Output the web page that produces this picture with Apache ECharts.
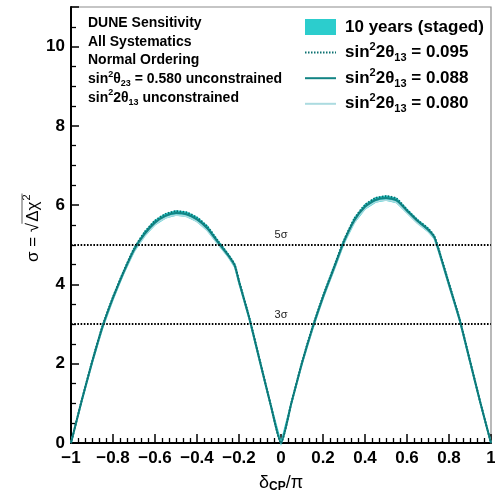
<!DOCTYPE html>
<html>
<head>
<meta charset="utf-8">
<script src="https://cdn.jsdelivr.net/npm/echarts@6/dist/echarts.min.js"></script>
<style>
  html, body { margin: 0; padding: 0; background: #fff; }
  #chart { width: 495px; height: 493px; }
</style>
</head>
<body>
<div id="chart"></div>
<script>
// delta_CP / pi sample points
const deltaCP = [-1, -0.95, -0.9, -0.85, -0.8, -0.75, -0.7, -0.65, -0.6, -0.55, -0.5, -0.45, -0.4, -0.35, -0.3, -0.25, -0.22, -0.2, -0.15, -0.1, -0.05, 0,
  0.05, 0.1, 0.15, 0.2, 0.25, 0.3, 0.35, 0.4, 0.45, 0.5, 0.55, 0.6, 0.65, 0.7, 0.73, 0.75, 0.8, 0.85, 0.9, 0.95, 1];

// sensitivity (sigma) for each sin^2 2theta13 value
const sigma095 = [0, 1.06, 2.05, 2.96, 3.69, 4.33, 4.91, 5.32, 5.61, 5.78, 5.85, 5.82, 5.69, 5.46, 5.10, 4.75, 4.50, 4.10, 3.15, 2.07, 0.99, 0,
  1.03, 2.04, 2.93, 3.71, 4.42, 5.12, 5.67, 6.01, 6.18, 6.23, 6.17, 5.89, 5.63, 5.42, 5.22, 4.91, 4.03, 3.14, 2.08, 1.01, 0];
const sigma088 = [0, 1.05, 2.03, 2.93, 3.66, 4.30, 4.87, 5.27, 5.56, 5.73, 5.80, 5.77, 5.64, 5.41, 5.06, 4.72, 4.47, 4.07, 3.13, 2.05, 0.98, 0,
  1.02, 2.02, 2.90, 3.68, 4.38, 5.08, 5.62, 5.96, 6.13, 6.18, 6.12, 5.86, 5.60, 5.38, 5.19, 4.88, 4.00, 3.12, 2.06, 1.00, 0];
const sigma080 = [0, 1.04, 2.01, 2.90, 3.63, 4.27, 4.83, 5.22, 5.51, 5.68, 5.75, 5.72, 5.59, 5.36, 5.02, 4.69, 4.44, 4.04, 3.11, 2.03, 0.97, 0,
  1.01, 2.00, 2.87, 3.65, 4.34, 5.04, 5.57, 5.91, 6.08, 6.13, 6.07, 5.81, 5.55, 5.34, 5.16, 4.85, 3.97, 3.10, 2.04, 0.99, 0];

// staged-exposure band edges
const bandLow = sigma080;
const bandHigh = sigma095;

const seriesNames = ['10 years (staged)', 'sin{sup|2}2θ{sub|13} = 0.095', 'sin{sup|2}2θ{sub|13} = 0.088', 'sin{sup|2}2θ{sub|13} = 0.080'];
const sigmaLevels = [5, 3];
const xTicks = { min: -1, max: 1, step: 0.2 };
const yTicks = { min: 0, max: 11, step: 2 };

const FONT = '"Liberation Sans", Arial, Helvetica, sans-serif';
const TEAL_FILL = '#2ccdcd';
const TEAL = '#128484';
const TEAL_DARK = '#0b7070';
const TEAL_LIGHT = '#acdbe0';
const SMOOTH = 0.2;

const pairs = (ys) => deltaCP.map((x, i) => [x, ys[i]]);

const infoText = [
  'DUNE Sensitivity',
  'All Systematics',
  'Normal Ordering',
  'sin{sup|2}θ{sub|23} = 0.580 unconstrained',
  'sin{sup|2}2θ{sub|13} unconstrained'
].join('\n');

// measure pieces of the y-axis title so the radical bar can be drawn over them
const mctx = document.createElement('canvas').getContext('2d');
mctx.font = '17px ' + FONT;
const wLead = mctx.measureText('σ = √').width;
const wRad = mctx.measureText('Δχ').width;

const chart = echarts.init(document.getElementById('chart'), null, { renderer: 'canvas' });

const richSmall = {
  sup: { fontSize: 11, fontWeight: 'bold', fontFamily: FONT, color: '#000', verticalAlign: 'top', lineHeight: 11 },
  sub: { fontSize: 11, fontWeight: 'bold', fontFamily: FONT, color: '#000', verticalAlign: 'bottom', lineHeight: 11 }
};

// band polygon: upper edge left-to-right, lower edge back right-to-left
function renderBand(params, api) {
  const pts = [];
  for (let i = 0; i < deltaCP.length; i++) pts.push(api.coord([deltaCP[i], bandHigh[i]]));
  for (let i = deltaCP.length - 1; i >= 0; i--) pts.push(api.coord([deltaCP[i], bandLow[i]]));
  return {
    type: 'polygon',
    shape: { points: pts },
    style: { fill: TEAL_FILL, stroke: TEAL_FILL, lineWidth: 1.5 }
  };
}

const hiddenSymbol = { opacity: 0 };

chart.setOption({
  animation: false,
  backgroundColor: '#fff',
  grid: {
    left: 71, right: 4, top: 7, bottom: 50,
    outerBoundsMode: 'none',
    show: true, borderColor: '#8c8c8c', borderWidth: 1.2, backgroundColor: 'transparent'
  },
  xAxis: {
    type: 'value',
    min: xTicks.min, max: xTicks.max, interval: xTicks.step,
    axisLine: { onZero: false, lineStyle: { color: '#000', width: 2 } },
    axisTick: { inside: true, length: 9, lineStyle: { color: '#000', width: 1.5 } },
    minorTick: { show: true, splitNumber: 6, length: 5, lineStyle: { color: '#000', width: 1.3 } },
    splitLine: { show: false },
    axisLabel: {
      margin: 7, color: '#000', fontSize: 17, fontWeight: 'bold', fontFamily: FONT,
      formatter: (v) => String(Math.round(v * 10) / 10).replace('-', '\u2212')
    },
    name: '{d|δ}{s|CP}{d|/π}',
    nameLocation: 'middle',
    nameGap: 30,
    nameTextStyle: {
      rich: {
        d: { fontSize: 18, fontFamily: FONT, color: '#000', lineHeight: 20 },
        s: { fontSize: 12, fontFamily: FONT, fontWeight: 'bold', color: '#000', verticalAlign: 'bottom', lineHeight: 12 }
      }
    }
  },
  yAxis: {
    type: 'value',
    min: yTicks.min, max: yTicks.max, interval: yTicks.step,
    axisLine: { show: true, onZero: false, lineStyle: { color: '#000', width: 2 } },
    axisTick: { inside: true, length: 8, lineStyle: { color: '#000', width: 1.5 } },
    minorTick: { show: true, splitNumber: 4, length: 5, lineStyle: { color: '#000', width: 1.3 } },
    splitLine: { show: false },
    axisLabel: { margin: 6, color: '#000', fontSize: 17, fontWeight: 'bold', fontFamily: FONT, showMaxLabel: false }
  },
  legend: {
    orient: 'vertical',
    left: 304, top: 16,
    padding: 0,
    itemWidth: 31, itemHeight: 16,
    itemGap: 3.6,
    data: [
      { name: seriesNames[0], icon: 'rect' },
      { name: seriesNames[1], itemStyle: hiddenSymbol },
      { name: seriesNames[2], itemStyle: hiddenSymbol },
      { name: seriesNames[3], itemStyle: hiddenSymbol }
    ],
    textStyle: {
      fontSize: 17, fontWeight: 'bold', fontFamily: FONT, color: '#000', lineHeight: 22, padding: [0, 0, 0, 4],
      rich: richSmall
    }
  },
  graphic: [
    {
      type: 'text', left: 88, top: 14, silent: true,
      style: {
        text: infoText,
        fontSize: 14, fontWeight: 'bold', fontFamily: FONT, fill: '#000', lineHeight: 18.6,
        rich: {
          sup: { fontSize: 9, fontWeight: 'bold', fontFamily: FONT, fill: '#000', verticalAlign: 'top', lineHeight: 11 },
          sub: { fontSize: 9, fontWeight: 'bold', fontFamily: FONT, fill: '#000', verticalAlign: 'bottom', lineHeight: 9 }
        }
      }
    },
    {
      type: 'group', x: 33, y: 262, rotation: Math.PI / 2, silent: true,
      children: [
        { type: 'text', x: 0, y: 0, style: { text: 'σ = √', fontSize: 17, fontFamily: FONT, fill: '#000', align: 'left', verticalAlign: 'middle' } },
        { type: 'text', x: wLead + 1, y: 0, style: { text: 'Δχ', fontSize: 17, fontFamily: FONT, fill: '#000', align: 'left', verticalAlign: 'middle' } },
        { type: 'text', x: wLead + wRad + 2, y: -6, style: { text: '2', fontSize: 11, fontFamily: FONT, fill: '#000', align: 'left', verticalAlign: 'middle' } },
        { type: 'line', shape: { x1: wLead - 1, y1: -11, x2: wLead + wRad + 9, y2: -11 }, style: { stroke: '#777', lineWidth: 1.2 } }
      ]
    }
  ],
  series: [
    {
      name: seriesNames[0], type: 'custom', data: [[0, 0]],
      renderItem: renderBand, silent: true, z: 1,
      itemStyle: { color: TEAL_FILL }
    },
    {
      name: seriesNames[3], type: 'line', data: pairs(sigma080), symbol: 'none', smooth: SMOOTH,
      lineStyle: { color: TEAL_LIGHT, width: 1.8 }, itemStyle: { color: TEAL_LIGHT }, z: 3,
      markLine: {
        silent: true, symbol: 'none',
        lineStyle: { color: '#000', type: [1.6, 1.6], width: 1.8 },
        label: {
          position: 'insideMiddleTop', distance: 4,
          fontSize: 11, fontFamily: FONT, color: '#222',
          formatter: (p) => p.value + 'σ'
        },
        data: sigmaLevels.map((v) => ({ yAxis: v }))
      }
    },
    {
      name: seriesNames[2], type: 'line', data: pairs(sigma088), symbol: 'none', smooth: SMOOTH,
      lineStyle: { color: TEAL, width: 2 }, itemStyle: { color: TEAL }, z: 4
    },
    {
      name: seriesNames[1], type: 'line', data: pairs(sigma095), symbol: 'none', smooth: SMOOTH,
      lineStyle: { color: TEAL_DARK, width: 1.8, type: [1.5, 1.5] }, itemStyle: { color: TEAL_DARK }, z: 5
    }
  ]
});
</script>
</body>
</html>
